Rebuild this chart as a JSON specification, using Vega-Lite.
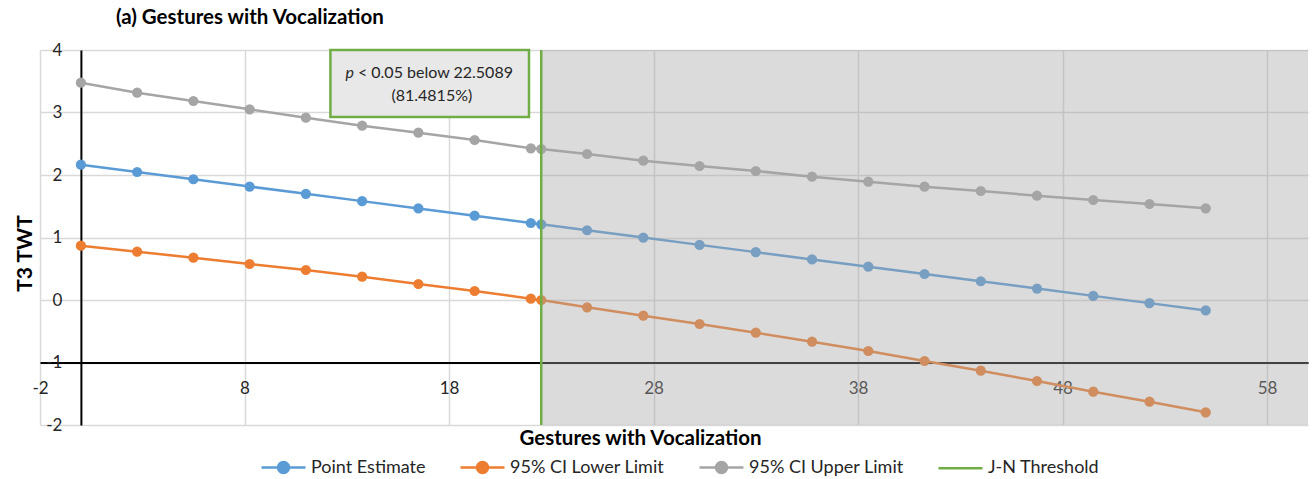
{
  "$schema": "https://vega.github.io/schema/vega-lite/v6.json",
  "width": 1268,
  "height": 375,
  "autosize": "none",
  "padding": {"left": 40, "top": 50, "right": 4, "bottom": 54},
  "background": "white",
  "title": {
    "text": "(a) Gestures with Vocalization",
    "anchor": "start",
    "dx": 101,
    "offset": 13,
    "font": "Lato",
    "fontSize": 20.5,
    "fontWeight": "bold",
    "color": "#000000"
  },
  "config": {
    "view": {"stroke": null},
    "axis": {
      "grid": true,
      "gridColor": "#d9d9d9",
      "gridWidth": 1.5,
      "domainColor": "#000000",
      "domainWidth": 2,
      "ticks": false,
      "labelFont": "Lato",
      "labelFontSize": 17,
      "labelColor": "#262626",
      "labelFlush": false,
      "labelExpr": "'' + datum.value",
      "titleFont": "Lato",
      "titleFontSize": 20.5,
      "titleFontWeight": "bold",
      "titleColor": "#000000"
    },
    "legend": {
      "labelFont": "Lato",
      "labelFontSize": 18,
      "labelColor": "#262626"
    }
  },
  "datasets": {
    "series": [
      {"x": 0, "series": "Point Estimate", "value": 2.165},
      {"x": 2.75, "series": "Point Estimate", "value": 2.048},
      {"x": 5.5, "series": "Point Estimate", "value": 1.932},
      {"x": 8.25, "series": "Point Estimate", "value": 1.815},
      {"x": 11, "series": "Point Estimate", "value": 1.699},
      {"x": 13.75, "series": "Point Estimate", "value": 1.582},
      {"x": 16.5, "series": "Point Estimate", "value": 1.465},
      {"x": 19.25, "series": "Point Estimate", "value": 1.349},
      {"x": 22, "series": "Point Estimate", "value": 1.232},
      {"x": 22.5089, "series": "Point Estimate", "value": 1.211},
      {"x": 24.75, "series": "Point Estimate", "value": 1.116},
      {"x": 27.5, "series": "Point Estimate", "value": 0.999},
      {"x": 30.25, "series": "Point Estimate", "value": 0.882},
      {"x": 33, "series": "Point Estimate", "value": 0.766},
      {"x": 35.75, "series": "Point Estimate", "value": 0.649},
      {"x": 38.5, "series": "Point Estimate", "value": 0.533},
      {"x": 41.25, "series": "Point Estimate", "value": 0.416},
      {"x": 44, "series": "Point Estimate", "value": 0.3},
      {"x": 46.75, "series": "Point Estimate", "value": 0.183},
      {"x": 49.5, "series": "Point Estimate", "value": 0.066},
      {"x": 52.25, "series": "Point Estimate", "value": -0.05},
      {"x": 55, "series": "Point Estimate", "value": -0.167},

      {"x": 0, "series": "95% CI Lower Limit", "value": 0.869},
      {"x": 2.75, "series": "95% CI Lower Limit", "value": 0.773},
      {"x": 5.5, "series": "95% CI Lower Limit", "value": 0.677},
      {"x": 8.25, "series": "95% CI Lower Limit", "value": 0.576},
      {"x": 11, "series": "95% CI Lower Limit", "value": 0.48},
      {"x": 13.75, "series": "95% CI Lower Limit", "value": 0.373},
      {"x": 16.5, "series": "95% CI Lower Limit", "value": 0.256},
      {"x": 19.25, "series": "95% CI Lower Limit", "value": 0.144},
      {"x": 22, "series": "95% CI Lower Limit", "value": 0.021},
      {"x": 22.5089, "series": "95% CI Lower Limit", "value": 0.0},
      {"x": 24.75, "series": "95% CI Lower Limit", "value": -0.117},
      {"x": 27.5, "series": "95% CI Lower Limit", "value": -0.251},
      {"x": 30.25, "series": "95% CI Lower Limit", "value": -0.384},
      {"x": 33, "series": "95% CI Lower Limit", "value": -0.523},
      {"x": 35.75, "series": "95% CI Lower Limit", "value": -0.667},
      {"x": 38.5, "series": "95% CI Lower Limit", "value": -0.816},
      {"x": 41.25, "series": "95% CI Lower Limit", "value": -0.976},
      {"x": 44, "series": "95% CI Lower Limit", "value": -1.131},
      {"x": 46.75, "series": "95% CI Lower Limit", "value": -1.296},
      {"x": 49.5, "series": "95% CI Lower Limit", "value": -1.467},
      {"x": 52.25, "series": "95% CI Lower Limit", "value": -1.627},
      {"x": 55, "series": "95% CI Lower Limit", "value": -1.797},

      {"x": 0, "series": "95% CI Upper Limit", "value": 3.477},
      {"x": 2.75, "series": "95% CI Upper Limit", "value": 3.317},
      {"x": 5.5, "series": "95% CI Upper Limit", "value": 3.184},
      {"x": 8.25, "series": "95% CI Upper Limit", "value": 3.051},
      {"x": 11, "series": "95% CI Upper Limit", "value": 2.917},
      {"x": 13.75, "series": "95% CI Upper Limit", "value": 2.789},
      {"x": 16.5, "series": "95% CI Upper Limit", "value": 2.677},
      {"x": 19.25, "series": "95% CI Upper Limit", "value": 2.56},
      {"x": 22, "series": "95% CI Upper Limit", "value": 2.427},
      {"x": 22.5089, "series": "95% CI Upper Limit", "value": 2.416},
      {"x": 24.75, "series": "95% CI Upper Limit", "value": 2.336},
      {"x": 27.5, "series": "95% CI Upper Limit", "value": 2.229},
      {"x": 30.25, "series": "95% CI Upper Limit", "value": 2.144},
      {"x": 33, "series": "95% CI Upper Limit", "value": 2.064},
      {"x": 35.75, "series": "95% CI Upper Limit", "value": 1.973},
      {"x": 38.5, "series": "95% CI Upper Limit", "value": 1.893},
      {"x": 41.25, "series": "95% CI Upper Limit", "value": 1.813},
      {"x": 44, "series": "95% CI Upper Limit", "value": 1.744},
      {"x": 46.75, "series": "95% CI Upper Limit", "value": 1.669},
      {"x": 49.5, "series": "95% CI Upper Limit", "value": 1.6},
      {"x": 52.25, "series": "95% CI Upper Limit", "value": 1.536},
      {"x": 55, "series": "95% CI Upper Limit", "value": 1.467}
    ],
    "threshold": [
      {"x": 22.5089, "series": "J-N Threshold"}
    ],
    "note": [
      {"italic": "p", "line1": "< 0.05 below 22.5089", "line2": "(81.4815%)"}
    ]
  },
  "layer": [
    {
      "data": {"name": "series"},
      "mark": {
        "type": "line",
        "strokeWidth": 2.5,
        "point": {"filled": true, "size": 105, "opacity": 1}
      },
      "encoding": {
        "x": {
          "field": "x",
          "type": "quantitative",
          "scale": {"domain": [-2, 60], "nice": false, "zero": false},
          "axis": {
            "orient": "bottom",
            "offset": -62.5,
            "values": [-2, 8, 18, 28, 38, 48, 58],
            "labelPadding": 18,
            "title": "Gestures with Vocalization",
            "titleX": 600,
            "titleY": 76,
            "titleAlign": "center",
            "titleBaseline": "middle"
          }
        },
        "y": {
          "field": "value",
          "type": "quantitative",
          "scale": {"domain": [-2, 4], "nice": false, "zero": false},
          "axis": {
            "orient": "left",
            "offset": -40.9,
            "values": [-2, -1, 0, 1, 2, 3, 4],
            "labelPadding": 19,
            "title": "T3 TWT",
            "titleAngle": 270,
            "titleFontSize": 21,
            "titleX": -55,
            "titleY": 203,
            "titleAlign": "center",
            "titleBaseline": "middle"
          }
        },
        "color": {
          "field": "series",
          "type": "nominal",
          "scale": {
            "domain": ["Point Estimate", "95% CI Lower Limit", "95% CI Upper Limit", "J-N Threshold"],
            "range": ["#5b9bd5", "#ed7d31", "#a5a5a5", "#70ad47"]
          },
          "legend": {
            "orient": "none",
            "direction": "horizontal",
            "legendX": 220,
            "legendY": 394,
            "title": null,
            "symbolSize": 1936,
            "symbolStrokeWidth": 2.5,
            "labelOffset": 4,
            "columnPadding": 29,
            "encode": {
              "symbols": {
                "update": {
                  "shape": {"signal": "datum.value === 'J-N Threshold' ? 'M-1,0L1,0' : 'M-1,0L1,0M-0.25,0A0.25,0.25 0 1,0 0.25,0A0.25,0.25 0 1,0 -0.25,0'"},
                  "fill": {"scale": "color", "field": "value"},
                  "stroke": {"scale": "color", "field": "value"},
                  "opacity": {"value": 1}
                }
              }
            }
          }
        }
      }
    },
    {
      "data": {"name": "threshold"},
      "mark": {"type": "rect", "fill": "#a6a6a6", "opacity": 0.4},
      "encoding": {
        "x": {"field": "x", "type": "quantitative"},
        "x2": {"datum": 60}
      }
    },
    {
      "data": {"name": "threshold"},
      "mark": {"type": "rule", "strokeWidth": 2.5},
      "encoding": {
        "x": {"field": "x", "type": "quantitative"},
        "color": {"field": "series", "type": "nominal"}
      }
    },
    {
      "data": {"name": "note"},
      "mark": {"type": "rect", "fill": "#e8e8e8", "stroke": "#70ad47", "strokeWidth": 2.5},
      "encoding": {
        "x": {"datum": 12.2},
        "x2": {"datum": 21.91},
        "y": {"datum": 4},
        "y2": {"datum": 2.93}
      }
    },
    {
      "data": {"name": "note"},
      "mark": {"type": "text", "align": "right", "baseline": "middle", "font": "Lato", "fontSize": 16, "fontStyle": "italic", "color": "#262626"},
      "encoding": {
        "x": {"datum": 13.35},
        "y": {"datum": 3.632},
        "text": {"field": "italic"}
      }
    },
    {
      "data": {"name": "note"},
      "mark": {"type": "text", "align": "left", "baseline": "middle", "dx": 4, "font": "Lato", "fontSize": 16, "color": "#262626"},
      "encoding": {
        "x": {"datum": 13.35},
        "y": {"datum": 3.632},
        "text": {"field": "line1"}
      }
    },
    {
      "data": {"name": "note"},
      "mark": {"type": "text", "align": "center", "baseline": "middle", "font": "Lato", "fontSize": 16, "color": "#262626"},
      "encoding": {
        "x": {"datum": 17.16},
        "y": {"datum": 3.264},
        "text": {"field": "line2"}
      }
    }
  ]
}
